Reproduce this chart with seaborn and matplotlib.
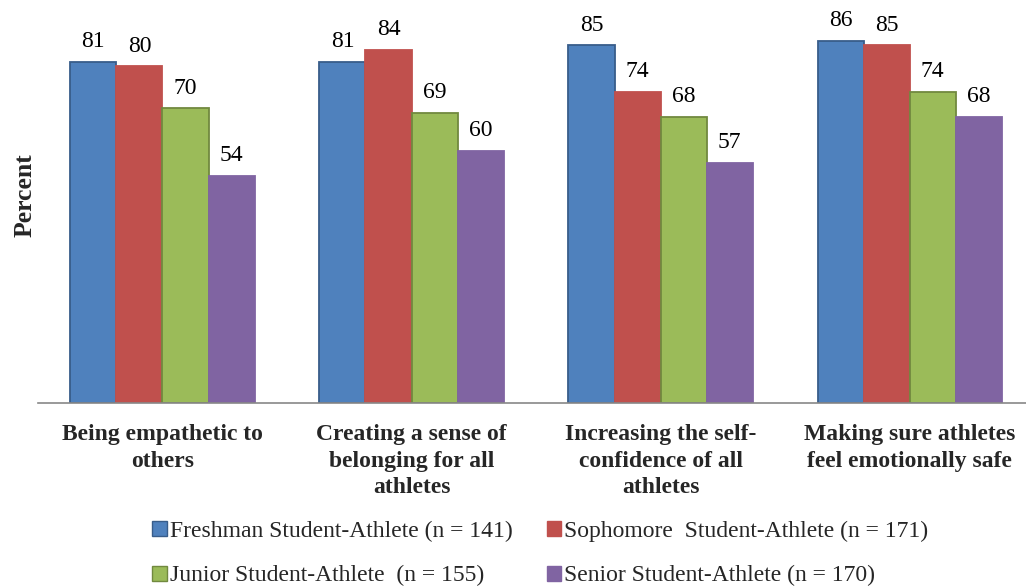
import matplotlib
matplotlib.use("Agg")
import matplotlib.pyplot as plt
import seaborn as sns
import pandas as pd
import numpy as np

categories = [
    "Being empathetic to\nothers",
    "Creating a sense of\nbelonging for all\nathletes",
    "Increasing the self-\nconfidence of all\nathletes",
    "Making sure athletes\nfeel emotionally safe",
]
groups = [
    "Freshman Student-Athlete (n = 141)",
    "Sophomore  Student-Athlete (n = 171)",
    "Junior Student-Athlete  (n = 155)",
    "Senior Student-Athlete (n = 170)",
]
freshman = [81, 81, 85, 86]
sophomore = [80, 84, 74, 85]
junior = [70, 69, 68, 74]
senior = [54, 60, 57, 68]

fills = ["#4F81BD", "#C0504D", "#9BBB59", "#8064A2"]
edges = ["#385D8A", "#C0504D", "#71893F", "#8064A2"]

rows = []
for g, vals in zip(groups, [freshman, sophomore, junior, senior]):
    for c, v in zip(categories, vals):
        rows.append({"category": c, "group": g, "value": v})
df = pd.DataFrame(rows)

sns.set_theme(style="white")
plt.rcParams["font.family"] = ["Liberation Serif", "DejaVu Serif"]

fig = plt.figure(figsize=(10.26, 5.87), dpi=100)
ax = fig.add_axes([0.037, 0.3135, 0.971, 0.645])

sns.barplot(data=df, x="category", y="value", hue="group",
            hue_order=groups, order=categories, palette=fills,
            saturation=1, width=0.74, gap=0, errorbar=None, ax=ax,
            legend=True)

for cont, ec in zip(ax.containers, edges):
    for bar in cont:
        bar.set_edgecolor(ec)
        bar.set_linewidth(1.3)
    ax.bar_label(cont, fmt="%d", padding=7, fontsize=17, color="black")

ax.set_xlim(-0.5, 3.5)
ax.set_ylim(0, 90)
ax.set_yticks([])
ax.set_xlabel("")
ax.set_ylabel("Percent", fontsize=18.5, fontweight="bold")
ax.yaxis.set_label_coords(-0.001, 0.55)

ax.tick_params(axis="x", which="major", length=0, pad=15)
ax.set_xticks(categories)
ax.set_xticklabels(categories, fontsize=17, fontweight="bold", linespacing=1.36,
                   va="top")
ax.set_xticks([-0.5, 0.5, 1.5, 2.5], minor=True)
ax.tick_params(axis="x", which="minor", length=6, width=1.2, color="#888888",
               direction="out")

for s in ["top", "right", "left"]:
    ax.spines[s].set_visible(False)
ax.spines["bottom"].set_color("#888888")
ax.spines["bottom"].set_linewidth(1.2)

ax.get_legend().remove()
handles = [plt.Rectangle((0, 0), 1, 1, facecolor=f, edgecolor=e, linewidth=1.0)
           for f, e in zip(fills, edges)]
# legend fills column-first: put Freshman/Junior left, Sophomore/Senior right
order = [0, 2, 1, 3]
fig.legend([handles[i] for i in order], [groups[i] for i in order],
           loc="lower left", bbox_to_anchor=(0.137, -0.019),
           ncol=2, frameon=False, fontsize=17, handlelength=0.6,
           handleheight=0.6, handletextpad=0.15, columnspacing=1.43,
           labelspacing=1.0, borderpad=0.0)

fig.savefig("out.png", dpi=100)
